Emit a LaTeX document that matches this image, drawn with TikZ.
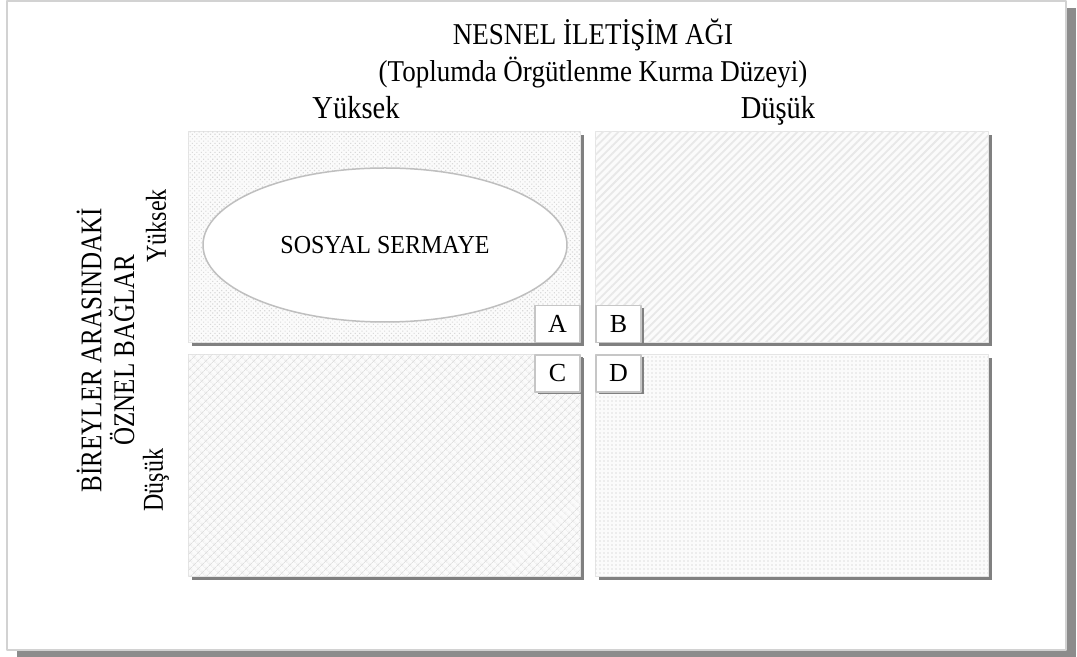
\documentclass[tikz,border=0pt]{standalone}
\usepackage{fontspec}
\setmainfont{Liberation Serif}
\usetikzlibrary{shadows,patterns.meta,shapes.geometric}

\tikzset{
  quad/.style={draw=gray!20,line width=1bp,fill=gray!3,minimum width=392bp,inner sep=0pt,
    drop shadow={shadow xshift=3.5bp,shadow yshift=-3.5bp,fill=black!50,opacity=1}},
  letterbox/.style={draw=gray!45,line width=1.5bp,fill=white,minimum width=45bp,minimum height=37bp,
    inner sep=0pt,font=\fontsize{26bp}{30bp}\selectfont,
    drop shadow={shadow xshift=2.5bp,shadow yshift=-2.5bp,fill=black!50,opacity=1}},
  capt/.style={inner sep=0pt,font=\fontsize{27bp}{32bp}\selectfont},
  axislabel/.style={inner sep=0pt,anchor=base,font=\fontsize{28.5bp}{32bp}\selectfont},
  sidelabel/.style={inner sep=0pt,rotate=90,font=\fontsize{24bp}{28bp}\selectfont},
}

\begin{document}
\begin{tikzpicture}[line join=bevel,]
\useasboundingbox (0bp,0bp) rectangle (1077bp,657bp);
%%
\node (frame) at (536.5bp,331.5bp) [draw=gray!35,line width=1.5bp,fill=white,minimum width=1059bp,minimum height=649bp,
  drop shadow={shadow xshift=10bp,shadow yshift=-7bp,fill=black!45,opacity=1}] {};
  \node (title) at (593bp,622bp) [capt] {\scalebox{1}[1.12]{NESNEL İLETİŞİM AĞI}};
  \node (subtitle) at (593bp,584bp) [capt] {\scalebox{1}[1.12]{(Toplumda Örgütlenme Kurma Düzeyi)}};
  \node (top_high) at (356bp,538bp) [axislabel] {\scalebox{1}[1.12]{Yüksek}};
  \node (top_low) at (778bp,538bp) [axislabel] {\scalebox{1}[1.12]{Düşük}};
  \node (side) at (109bp,307bp) [sidelabel,font=\fontsize{25bp}{20bp}\selectfont]
    {\scalebox{1}[1.2]{\begin{tabular}{@{}c@{}}BİREYLER ARASINDAKİ\\ÖZNEL BAĞLAR\end{tabular}}};
  \node (side_high) at (156bp,431bp) [sidelabel] {\scalebox{1}[1.2]{Yüksek}};
  \node (side_low) at (156bp,177bp) [sidelabel] {\scalebox{1}[1.2]{Düşük}};
%
  \node (quad_a) at (384bp,419.5bp) [quad,minimum height=211bp,
    postaction={pattern={Dots[angle=45,distance=3.2bp,radius=0.8bp]},pattern color=gray!30}] {};
  \node (quad_b) at (791.5bp,419.5bp) [quad,minimum height=211bp,minimum width=393bp,
    postaction={pattern={Lines[angle=45,distance=5.5bp,line width=1.8bp]},pattern color=gray!18}] {};
  \node (quad_c) at (384bp,191bp) [quad,minimum height=222bp,
    postaction={pattern={Hatch[angle=45,distance=6bp,line width=1bp]},pattern color=gray!25}] {};
  \node (quad_d) at (791.5bp,191bp) [quad,minimum height=222bp,minimum width=393bp,
    postaction={pattern={Dots[distance=4bp,radius=0.9bp]},pattern color=gray!25}] {};
%
  \node (capital) at (385bp,412bp) [ellipse,draw=gray!50,line width=1.5bp,fill=white,minimum width=364bp,minimum height=154bp,
    inner sep=0pt,font=\fontsize{24bp}{28bp}\selectfont] {\scalebox{1}[1.08]{SOSYAL SERMAYE}};
%
  \node (box_a) at (557.5bp,333bp) [letterbox] {A};
  \node (box_b) at (618.5bp,333bp) [letterbox] {B};
  \node (box_c) at (557.5bp,283.5bp) [letterbox] {C};
  \node (box_d) at (618.5bp,283.5bp) [letterbox] {D};
%
\end{tikzpicture}
\end{document}
